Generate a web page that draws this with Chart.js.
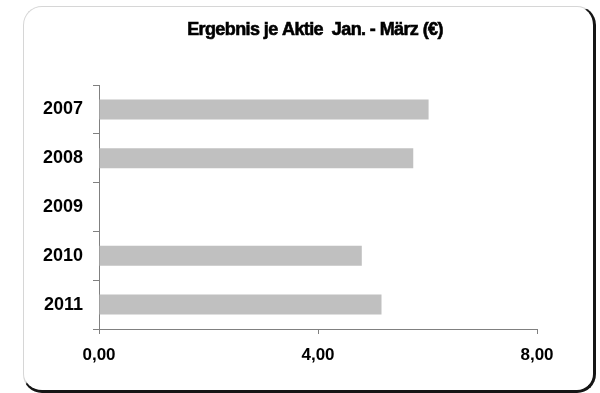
<!DOCTYPE html>
<html>
<head>
<meta charset="utf-8">
<script src="https://cdn.jsdelivr.net/npm/chart.js@4"></script>
<style>
  html, body { margin: 0; padding: 0; background: #fff; }
  #wrap { position: relative; width: 600px; height: 393px; overflow: hidden; }
  #card {
    position: absolute; left: 23px; top: 6px; width: 569px; height: 383px;
    border-style: solid; border-width: 1px 3px 3px 1px;
    border-color: #d6d6d6 #151515 #151515 #d6d6d6;
    border-radius: 19px; background: #fff;
  }
  #c { position: absolute; left: 0; top: 0; }
</style>
</head>
<body>
<div id="wrap">
  <div id="card"></div>
  <canvas id="c" width="600" height="393"></canvas>
</div>
<script>
// Earnings per share, first quarter (Jan. - March), in euro
const years = ['2007', '2008', '2009', '2010', '2011'];
const epsValues = [6.02, 5.74, null, 4.80, 5.16];
const xTicks = [0, 4, 8];
const chartTitle = 'Ergebnis je Aktie  Jan. - März (€)';

const FONT = "'Liberation Sans', Arial, sans-serif";

// Heavy, tightly set heading centred over the card
const headingPlugin = {
  id: 'heading',
  afterDraw(chart) {
    const ctx = chart.ctx;
    ctx.save();
    ctx.font = "bold 18px " + FONT;
    if ('letterSpacing' in ctx) ctx.letterSpacing = '-0.6px';
    ctx.textAlign = 'center';
    ctx.textBaseline = 'alphabetic';
    ctx.fillStyle = '#000';
    ctx.strokeStyle = '#000';
    ctx.lineWidth = 0.6;
    ctx.fillText(chartTitle, 315, 35);
    ctx.strokeText(chartTitle, 315, 35);
    ctx.restore();
  }
};

new Chart(document.getElementById('c'), {
  type: 'bar',
  data: {
    labels: years,
    datasets: [{
      data: epsValues,
      backgroundColor: '#c0c0c0',
      borderWidth: 0,
      barPercentage: 0.41,
      categoryPercentage: 1.0
    }]
  },
  options: {
    indexAxis: 'y',
    responsive: false,
    animation: false,
    layout: { padding: { left: 0, right: 63, top: 85, bottom: 0 } },
    plugins: {
      legend: { display: false },
      tooltip: { enabled: false },
      title: { display: false }
    },
    scales: {
      x: {
        min: 0, max: 8,
        afterBuildTicks: s => { s.ticks = xTicks.map(v => ({ value: v })); },
        border: { display: true, color: '#808080', width: 1 },
        grid: { drawOnChartArea: false, drawTicks: true, tickLength: 5, color: '#808080' },
        ticks: {
          color: '#000', padding: 11,
          font: { family: FONT, size: 17, weight: 'bold' },
          callback: v => v.toFixed(2).replace('.', ',')
        },
        afterFit: s => { s.height = 64; }
      },
      y: {
        border: { display: true, color: '#808080', width: 1 },
        grid: { offset: true, drawOnChartArea: false, drawTicks: true, tickLength: 6, color: '#808080' },
        ticks: {
          color: '#000', padding: 10,
          font: { family: FONT, size: 18, weight: 'bold' }
        },
        afterFit: s => { s.width = 99; }
      }
    }
  },
  plugins: [headingPlugin]
});
</script>
</body>
</html>
